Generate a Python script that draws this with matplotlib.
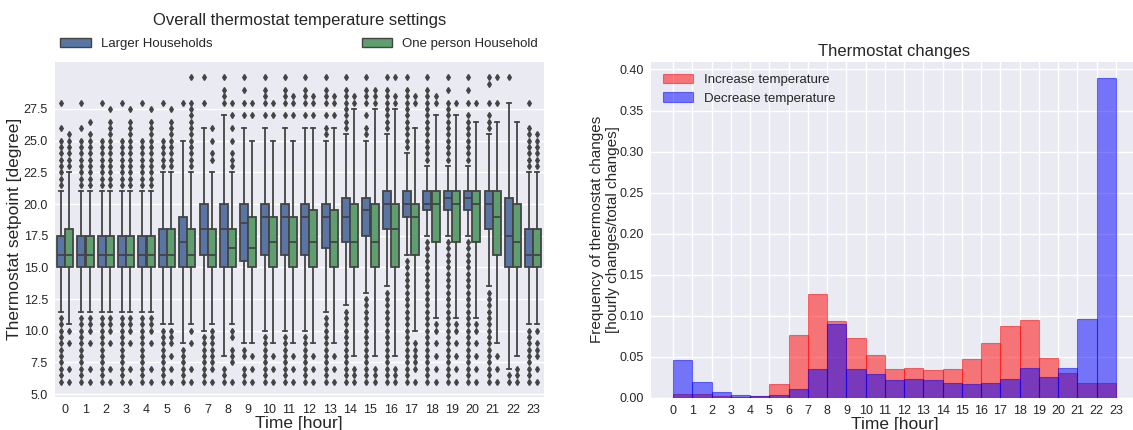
import matplotlib
matplotlib.use('Agg')
import matplotlib.pyplot as plt
from matplotlib.patches import Patch

plt.rcParams['font.family'] = ['Liberation Sans', 'DejaVu Sans']

hours = list(range(24))

# setpoint box statistics per hour, larger households
big_q1 = [15, 15, 15, 15, 15, 15, 15, 16, 15, 15.5, 16, 16,
          16, 16.5, 17, 17.5, 18, 19, 19.5, 19.5, 19.5, 18, 15, 15]
big_med = [16, 16, 16, 16, 16, 16, 17, 18, 18, 18.5, 19, 19,
           19, 19, 19, 19.5, 20, 20, 20, 20.5, 20.5, 20, 17.5, 16]
big_q3 = [17.5, 17.5, 17.5, 17.5, 17.5, 18, 19, 20, 20, 20, 20, 20,
          20, 20, 20.5, 20.5, 21, 21, 21, 21, 21, 21, 20.5, 18]
big_lo = [11.5, 11.5, 11.5, 11.5, 11.5, 10.5, 9, 10, 8, 9, 10, 10,
          10, 11.5, 12, 13, 13.5, 16, 17.5, 17.5, 17.5, 13.5, 7, 10.5]
big_hi = [21, 21, 21, 21, 21, 22.5, 25, 26, 27, 26, 26, 26,
          26, 25, 25.5, 25, 25.5, 24, 23, 23, 23, 25.5, 28, 22.5]
big_out_hi = [
    [28, 26, 25, 24.5, 24, 23.5, 23, 22.5, 22, 21.5],
    [28, 26, 25, 24.5, 24, 23.5, 23, 22.5, 22, 21.5],
    [28, 25, 24.5, 24, 23.5, 23, 22.5, 22, 21.5],
    [28, 25, 24.5, 24, 23.5, 23, 22.5, 22, 21.5],
    [28, 25, 24.5, 24, 23.5, 23, 22.5, 22, 21.5],
    [28, 25, 24.5, 24, 23.5, 23],
    [28],
    [30, 28],
    [30, 29, 28.5, 28],
    [30, 29, 28, 27],
    [30, 29, 28.5, 28, 27],
    [30, 29, 28.5, 28, 27],
    [30, 29, 28.5, 28, 27],
    [30, 29, 28.5, 28, 27, 26, 25.5],
    [30, 29, 28.5, 28, 27.5, 27, 26.5, 26],
    [30, 29, 28.5, 28, 27, 26, 25.5],
    [30, 29, 28.5, 28, 27.5, 27, 26.5, 26],
    [30, 29, 28.5, 28, 27.5, 27, 26.5, 26, 25.5, 25, 24.5],
    [30, 29, 28.5, 28, 27.5, 27, 26.5, 26, 25.5, 25, 24.5, 24, 23.5],
    [30, 29, 28, 27.5, 27, 26.5, 26, 25.5, 25, 24.5, 24, 23.5],
    [30, 29, 28, 27, 26.5, 26, 25.5, 25, 24.5, 24, 23.5],
    [30, 29.5, 28, 27, 26.5, 26],
    [30],
    [28, 26, 25.5, 25, 24.5, 24, 23.5, 23],
]
big_out_lo = [
    [11, 10.5, 10, 9.5, 9, 8.5, 8, 7.5, 7, 6.5, 6],
    [11, 10.5, 10, 9.5, 9, 8.5, 8, 7.5, 7, 6.5, 6],
    [11, 10.5, 10, 9.5, 9, 8.5, 8, 7.5, 7, 6.5, 6],
    [11, 10.5, 10, 9.5, 9, 8.5, 8, 7.5, 7, 6.5, 6],
    [11, 10.5, 10, 9.5, 9, 8.5, 8, 7.5, 7, 6.5, 6],
    [10, 9.5, 9, 8.5, 8, 7.5, 7, 6.5, 6],
    [8.5, 8, 7.5, 7, 6.5, 6],
    [9.5, 9, 8.5, 8, 7.5, 7, 6.5, 6],
    [7, 6.5, 6],
    [8.5, 8, 7, 6.5, 6],
    [9.5, 9, 8.5, 8, 7.5, 7, 6.5, 6],
    [9.5, 9, 8.5, 8, 7.5, 7, 6.5, 6],
    [9.5, 9, 8.5, 8, 7.5, 7, 6.5, 6],
    [11, 10.5, 10, 9.5, 9, 8.5, 8, 7.5, 7, 6.5, 6],
    [11.5, 11, 10.5, 10, 9.5, 9, 8.5, 8, 7.5, 7, 6.5, 6],
    [12.5, 12, 11.5, 11, 10.5, 10, 9.5, 9, 8.5, 8, 7.5, 7, 6.5, 6],
    [13, 12.5, 12, 11.5, 11, 10.5, 10, 9.5, 9, 8.5, 8, 7.5, 7, 6.5, 6],
    [15.5, 15, 14.5, 14, 13.5, 13, 12.5, 12, 11.5, 11, 10.5, 10,
     9.5, 9, 8.5, 8, 7.5, 7, 6.5, 6],
    [17, 16.5, 16, 15.5, 15, 14.5, 14, 13.5, 13, 12.5, 12, 11.5, 11,
     10.5, 10, 9.5, 9, 8.5, 8, 7.5, 7, 6.5, 6],
    [17, 16.5, 16, 15.5, 15, 14.5, 14, 13.5, 13, 12.5, 12, 11.5, 11,
     10.5, 10, 9.5, 9, 8.5, 8, 7.5, 7, 6.5, 6],
    [17, 16.5, 16, 15.5, 15, 14.5, 14, 13.5, 13, 12.5, 12, 11.5, 11,
     10.5, 10, 9.5, 9, 8.5, 8, 7.5, 7, 6.5, 6],
    [13, 12.5, 12, 11.5, 11, 10.5, 10, 9.5, 9, 8.5, 8, 7.5, 7, 6.5, 6],
    [6.5, 6],
    [10, 9.5, 9, 8.5, 8, 7.5, 7, 6.5, 6],
]

# one person households
one_q1 = [15, 15, 15, 15, 15, 15, 15, 15, 15, 15, 15, 15,
          15, 15, 15, 15, 15, 16, 17, 17, 17, 16, 15, 15]
one_med = [16, 16, 16, 16, 16, 16, 16, 16, 16.5, 16.5, 17, 17,
           17, 17, 17, 17, 18, 19, 20, 20, 20, 19, 17, 16]
one_q3 = [18, 17.5, 17.5, 17.5, 17.5, 18, 18, 18, 18, 19, 19, 19,
          19.5, 19.5, 20, 20, 20, 20, 21, 21, 21, 21, 20, 18]
one_lo = [10.5, 11.5, 11.5, 11.5, 11.5, 10.5, 10.5, 10.5, 10.5, 9, 9, 9,
          9, 9, 8, 8, 8, 10, 11, 11, 11, 9, 8, 10.5]
one_hi = [22.5, 21, 21, 21, 21, 22.5, 22.5, 22.5, 22.5, 25, 25, 25,
          26, 26, 27.5, 27.5, 27.5, 26, 27, 27, 26.5, 26.5, 26.5, 22.5]
one_out_hi = [
    [25.5, 25, 24.5, 24, 23.5, 23],
    [26.5, 25.5, 25, 24.5, 24, 23.5, 23, 22.5, 22, 21.5],
    [27.5, 26.5, 26, 25.5, 25, 24.5, 24, 23.5, 23, 22.5, 22, 21.5],
    [27.5, 26.5, 26, 25.5, 25, 24.5, 24, 23.5, 23, 22.5, 22, 21.5],
    [27.5, 26.5, 26, 25.5, 25, 24.5, 24, 23.5, 23, 22.5, 22, 21.5],
    [27.5, 26.5, 26, 25.5, 25, 24.5, 24, 23.5, 23],
    [30, 28, 27.5, 27, 26.5, 26, 25.5, 25, 24.5, 24, 23.5, 23],
    [26, 25, 24, 23.5],
    [28, 27, 26, 25, 24, 23.5, 23],
    [28, 27],
    [28, 27],
    [28.5, 28, 27],
    [28.5, 28, 27],
    [28.5, 28, 27],
    [28.5, 28],
    [29, 28.5, 28],
    [30, 28.5, 28],
    [28.5, 28],
    [28.5, 28],
    [28],
    [28],
    [30, 28],
    [],
    [25.5, 25, 24.5, 24, 23.5, 23],
]
one_out_lo = [
    [10, 9, 7, 6],
    [11, 10.5, 10, 9, 7, 6],
    [11, 10.5, 10, 9, 7, 6],
    [11, 10.5, 10, 9, 7, 6],
    [11, 10.5, 10, 9, 7, 6],
    [10, 9.5, 9, 8, 7, 6],
    [10, 9, 7, 6],
    [10, 9.5, 9, 8.5, 8, 7.5, 7, 6],
    [10, 9.5, 8.5, 8, 7.5, 6],
    [8, 7, 6],
    [8, 7, 6],
    [8, 7, 6],
    [8, 7, 6],
    [8, 7, 6],
    [7, 6.5, 6],
    [7, 6.5, 6],
    [7, 6.5, 6],
    [9, 8.5, 8, 7.5, 7, 6],
    [10.5, 10, 9, 8, 7, 6],
    [10.5, 10, 9, 8, 7, 6],
    [10.5, 10, 9, 8, 7, 6],
    [8, 7, 6],
    [7, 6.5, 6],
    [10, 9, 8.5, 8, 7, 6],
]

# share of thermostat changes per hour
increase = [0.005, 0.004, 0.002, 0.001, 0.0025, 0.0165, 0.0765, 0.127,
            0.094, 0.073, 0.052, 0.035, 0.036, 0.0335, 0.035, 0.047,
            0.067, 0.088, 0.095, 0.0485, 0.030, 0.0175, 0.0175]
decrease = [0.046, 0.019, 0.0065, 0.003, 0.0015, 0.003, 0.0105, 0.035,
            0.090, 0.035, 0.029, 0.0215, 0.0225, 0.0215, 0.0175, 0.0165,
            0.0175, 0.0225, 0.036, 0.025, 0.036, 0.0965, 0.39]

BG = '#EAEAF2'
TXT = '#262626'
GRAY = '#444444'
BLUE = '#5975A4'
GREEN = '#5F9E6E'


def style_axes(ax):
    ax.set_facecolor(BG)
    for s in ax.spines.values():
        s.set_visible(False)
    ax.set_axisbelow(True)
    ax.tick_params(length=0, labelsize=9, colors=TXT, pad=5)


def box_stats(q1, med, q3, lo, hi, out_hi, out_lo):
    stats = []
    for i in range(len(q1)):
        stats.append(dict(med=med[i], q1=q1[i], q3=q3[i],
                          whislo=lo[i], whishi=hi[i],
                          fliers=out_hi[i] + out_lo[i]))
    return stats


fig = plt.figure(figsize=(11.33, 4.30), dpi=100)
fig.patch.set_facecolor('white')

# left: setpoint distributions
ax1 = fig.add_axes([0.0485, 0.0774, 0.4312, 0.7784])
style_axes(ax1)
ax1.grid(axis='y', color='white', linewidth=1.0)
ax1.grid(axis='x', visible=False)

w = 0.4 * 0.98
for vals, off, col in [
        (box_stats(big_q1, big_med, big_q3, big_lo, big_hi, big_out_hi, big_out_lo), -0.2, BLUE),
        (box_stats(one_q1, one_med, one_q3, one_lo, one_hi, one_out_hi, one_out_lo), 0.2, GREEN)]:
    ax1.bxp(vals, positions=[h + off for h in hours], widths=w,
            patch_artist=True, manage_ticks=False,
            boxprops=dict(facecolor=col, edgecolor=GRAY, linewidth=1.3),
            medianprops=dict(color=GRAY, linewidth=1.3),
            whiskerprops=dict(color=GRAY, linewidth=1.3),
            capprops=dict(color=GRAY, linewidth=1.3),
            flierprops=dict(marker='d', markersize=3.0, markerfacecolor=GRAY,
                            markeredgecolor=GRAY, linestyle='none'))

ax1.set_xlim(-0.5, 23.5)
ax1.set_ylim(4.8, 31.2)
ax1.set_xticks(hours)
ax1.set_xticklabels([str(h) for h in hours])
ax1.set_yticks([5, 7.5, 10, 12.5, 15, 17.5, 20, 22.5, 25, 27.5])
ax1.set_yticklabels(['5.0', '7.5', '10.0', '12.5', '15.0', '17.5', '20.0',
                     '22.5', '25.0', '27.5'])
ax1.set_xlabel('Time [hour]', fontsize=12.5, color=TXT, labelpad=0)
ax1.set_ylabel('Thermostat setpoint [degree]', fontsize=12.5, color=TXT,
               labelpad=1)
ax1.set_title('Overall thermostat temperature settings', fontsize=12,
              color=TXT, pad=27)
handles = [Patch(facecolor=BLUE, edgecolor=GRAY, linewidth=1),
           Patch(facecolor=GREEN, edgecolor=GRAY, linewidth=1)]
ax1.legend(handles, ['Larger Households', 'One person Household'],
           bbox_to_anchor=(0, 1.02, 1, 0.102), loc='lower left', ncol=2,
           mode='expand', borderaxespad=0, frameon=False, fontsize=9.5,
           handlelength=2.3, handletextpad=0.8, labelcolor=TXT)

# right: hourly frequency of thermostat changes
ax2 = fig.add_axes([0.5746, 0.0751, 0.4298, 0.7814])
style_axes(ax2)
ax2.grid(axis='both', color='white', linewidth=1.0)
left_edges = hours[:-1]
ax2.bar(left_edges, increase, width=1, align='edge', color='red',
        alpha=0.5, edgecolor='red', linewidth=0.8,
        label='Increase temperature')
ax2.bar(left_edges, decrease, width=1, align='edge', color='blue',
        alpha=0.5, edgecolor='blue', linewidth=0.8,
        label='Decrease temperature')
ax2.set_xticks(hours)
ax2.set_xticklabels([str(h) for h in hours])
ax2.set_yticks([0, 0.05, 0.10, 0.15, 0.20, 0.25, 0.30, 0.35, 0.40])
ax2.set_yticklabels(['%.2f' % v for v in ax2.get_yticks()])
ax2.set_xlabel('Time [hour]', fontsize=12.5, color=TXT, labelpad=0)
ax2.set_ylabel('Frequency of thermostat changes\n[hourly changes/total changes]',
               fontsize=11, color=TXT, labelpad=0)
ax2.set_title('Thermostat changes', fontsize=12, color=TXT, pad=4)
ax2.legend(loc='upper left', frameon=False, fontsize=9.5, handlelength=2.3,
           handletextpad=0.8, labelcolor=TXT)

fig.savefig('out.png', dpi=100)
